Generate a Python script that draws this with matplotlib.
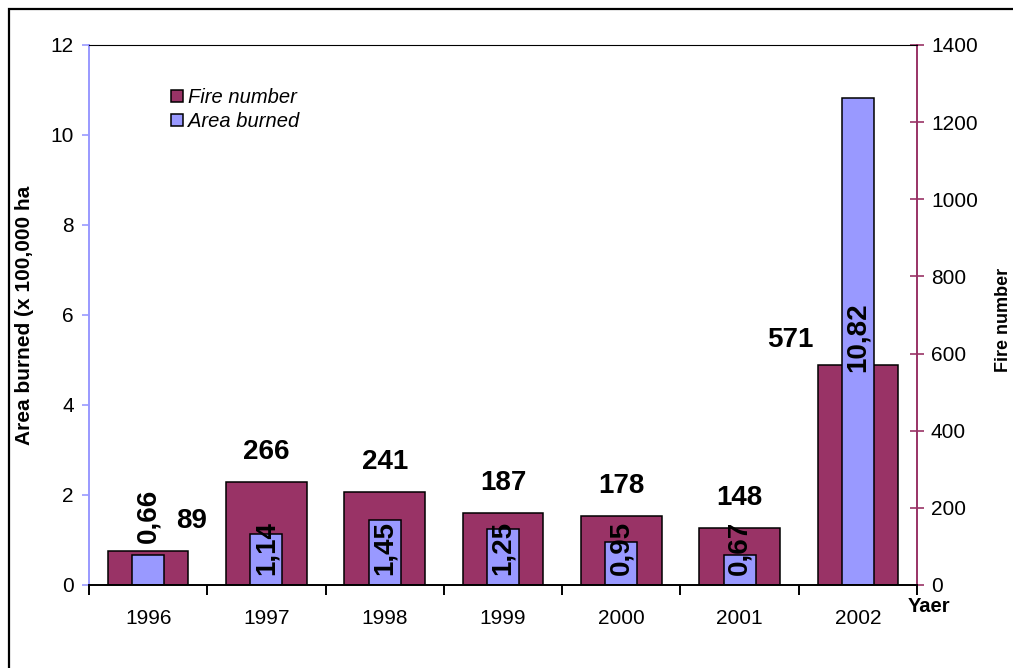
import numpy as np
import matplotlib.pyplot as plt
from matplotlib.patches import Rectangle

plt.rcParams["font.family"] = ["Liberation Sans", "DejaVu Sans"]

# =========================================================
# Data
# =========================================================

years = ["1996", "1997", "1998", "1999", "2000", "2001", "2002"]
fire_number = [89, 266, 241, 187, 178, 148, 571]
area_burned = [0.66, 1.14, 1.45, 1.25, 0.95, 0.67, 10.82]
area_text = ["0,66", "1,14", "1,45", "1,25", "0,95", "0,67", "10,82"]

purple = "#993366"
lilac = "#9999FF"

x = np.arange(len(years))

# =========================================================
# Figure
# =========================================================

fig = plt.figure(figsize=(10.13, 6.68), dpi=100)

# outer frame (runs off the right and bottom edges)
fig.patches.append(Rectangle(
    (9 / 1013, -0.05), 1.1, 1.05 - 9 / 668,
    transform=fig.transFigure, fill=False,
    edgecolor="black", linewidth=1.6
))

ax = fig.add_axes([89 / 1013, 83 / 668, 828 / 1013, 540 / 668])
ax2 = ax.twinx()

ax.set_zorder(ax2.get_zorder() + 1)
ax.patch.set_visible(False)

# fire number bars (right axis, behind)
ax2.bar(x, fire_number, width=0.68, color=purple,
        edgecolor="black", linewidth=1.1, label="Fire number")

# area burned bars (left axis, front)
ax.bar(x, area_burned, width=0.27, color=lilac,
       edgecolor="black", linewidth=1.1, label="Area burned")

ax.set_xlim(-0.5, 6.5)
ax.set_ylim(0, 12)
ax2.set_ylim(0, 1400)

# =========================================================
# Data labels
# =========================================================

for i, v in enumerate(fire_number):
    dx = 0
    dy = 78
    if i == 0:
        dx = 0.37
    if i == len(fire_number) - 1:
        dx = -0.57
        dy = 65
    ax2.text(x[i] + dx, v + dy, str(v), ha="center", va="center",
             fontsize=20, fontweight="bold")

for i, v in enumerate(area_burned):
    if i == 0:
        ax.text(x[i], v + 0.27, area_text[i], rotation=90, ha="center",
                va="bottom", fontsize=20, fontweight="bold")
    elif i == len(area_burned) - 1:
        ax.text(x[i], v / 2 + 0.1, area_text[i], rotation=90, ha="center",
                va="center", fontsize=20, fontweight="bold")
    else:
        ax.text(x[i], 0.22, area_text[i], rotation=90, ha="center",
                va="bottom", fontsize=20, fontweight="bold")

# =========================================================
# Axes styling
# =========================================================

ax.spines["left"].set_color(lilac)
ax.spines["left"].set_linewidth(1.4)
ax.spines["right"].set_visible(False)
ax.spines["top"].set_color("black")
ax.spines["bottom"].set_color("black")
ax.spines["bottom"].set_linewidth(1.4)
ax2.spines["left"].set_visible(False)
ax2.spines["right"].set_color(purple)
ax2.spines["right"].set_linewidth(1.4)
ax2.spines["bottom"].set_visible(False)
ax2.spines["top"].set_visible(False)

ax.set_yticks(np.arange(0, 13, 2))
ax.tick_params(axis="y", which="major", direction="out", length=5,
               width=1.2, color=lilac, labelsize=15, pad=6)

ax2.set_yticks(np.arange(0, 1401, 200))
ax2.tick_params(axis="y", which="major", direction="inout", length=10,
                width=1.2, color=purple, labelsize=15, pad=5)

ax.set_xticks(np.arange(-0.5, 7, 1))
ax.set_xticklabels([])
ax.set_xticks(x, minor=True)
ax.set_xticklabels(years, minor=True)
ax.tick_params(axis="x", which="major", direction="out", length=7,
               width=1.4, color="black")
ax.tick_params(axis="x", which="minor", length=0, labelsize=15, pad=17)

ax.set_ylabel("Area burned (x 100,000 ha", fontsize=15, fontweight="bold")
ax.yaxis.set_label_coords(-0.0665, 0.5)
ax2.set_ylabel("Fire number", fontsize=13, fontweight="bold")
ax2.yaxis.set_label_coords(1.0945, 0.49)

fig.text(929 / 1013, 1 - 607 / 668, "Yaer", ha="center", va="center",
         fontsize=14.5, fontweight="bold")

# =========================================================
# Legend
# =========================================================

h2, l2 = ax2.get_legend_handles_labels()
h1, l1 = ax.get_legend_handles_labels()
leg = ax.legend(h2 + h1, l2 + l1, loc="upper left",
                bbox_to_anchor=(0.089, 0.935), frameon=False,
                prop={"size": 14.5, "style": "italic"},
                handlelength=0.6, handleheight=0.6, handletextpad=0.25,
                labelspacing=0.25, borderaxespad=0)

plt.savefig("out.png", dpi=100)
plt.close()
